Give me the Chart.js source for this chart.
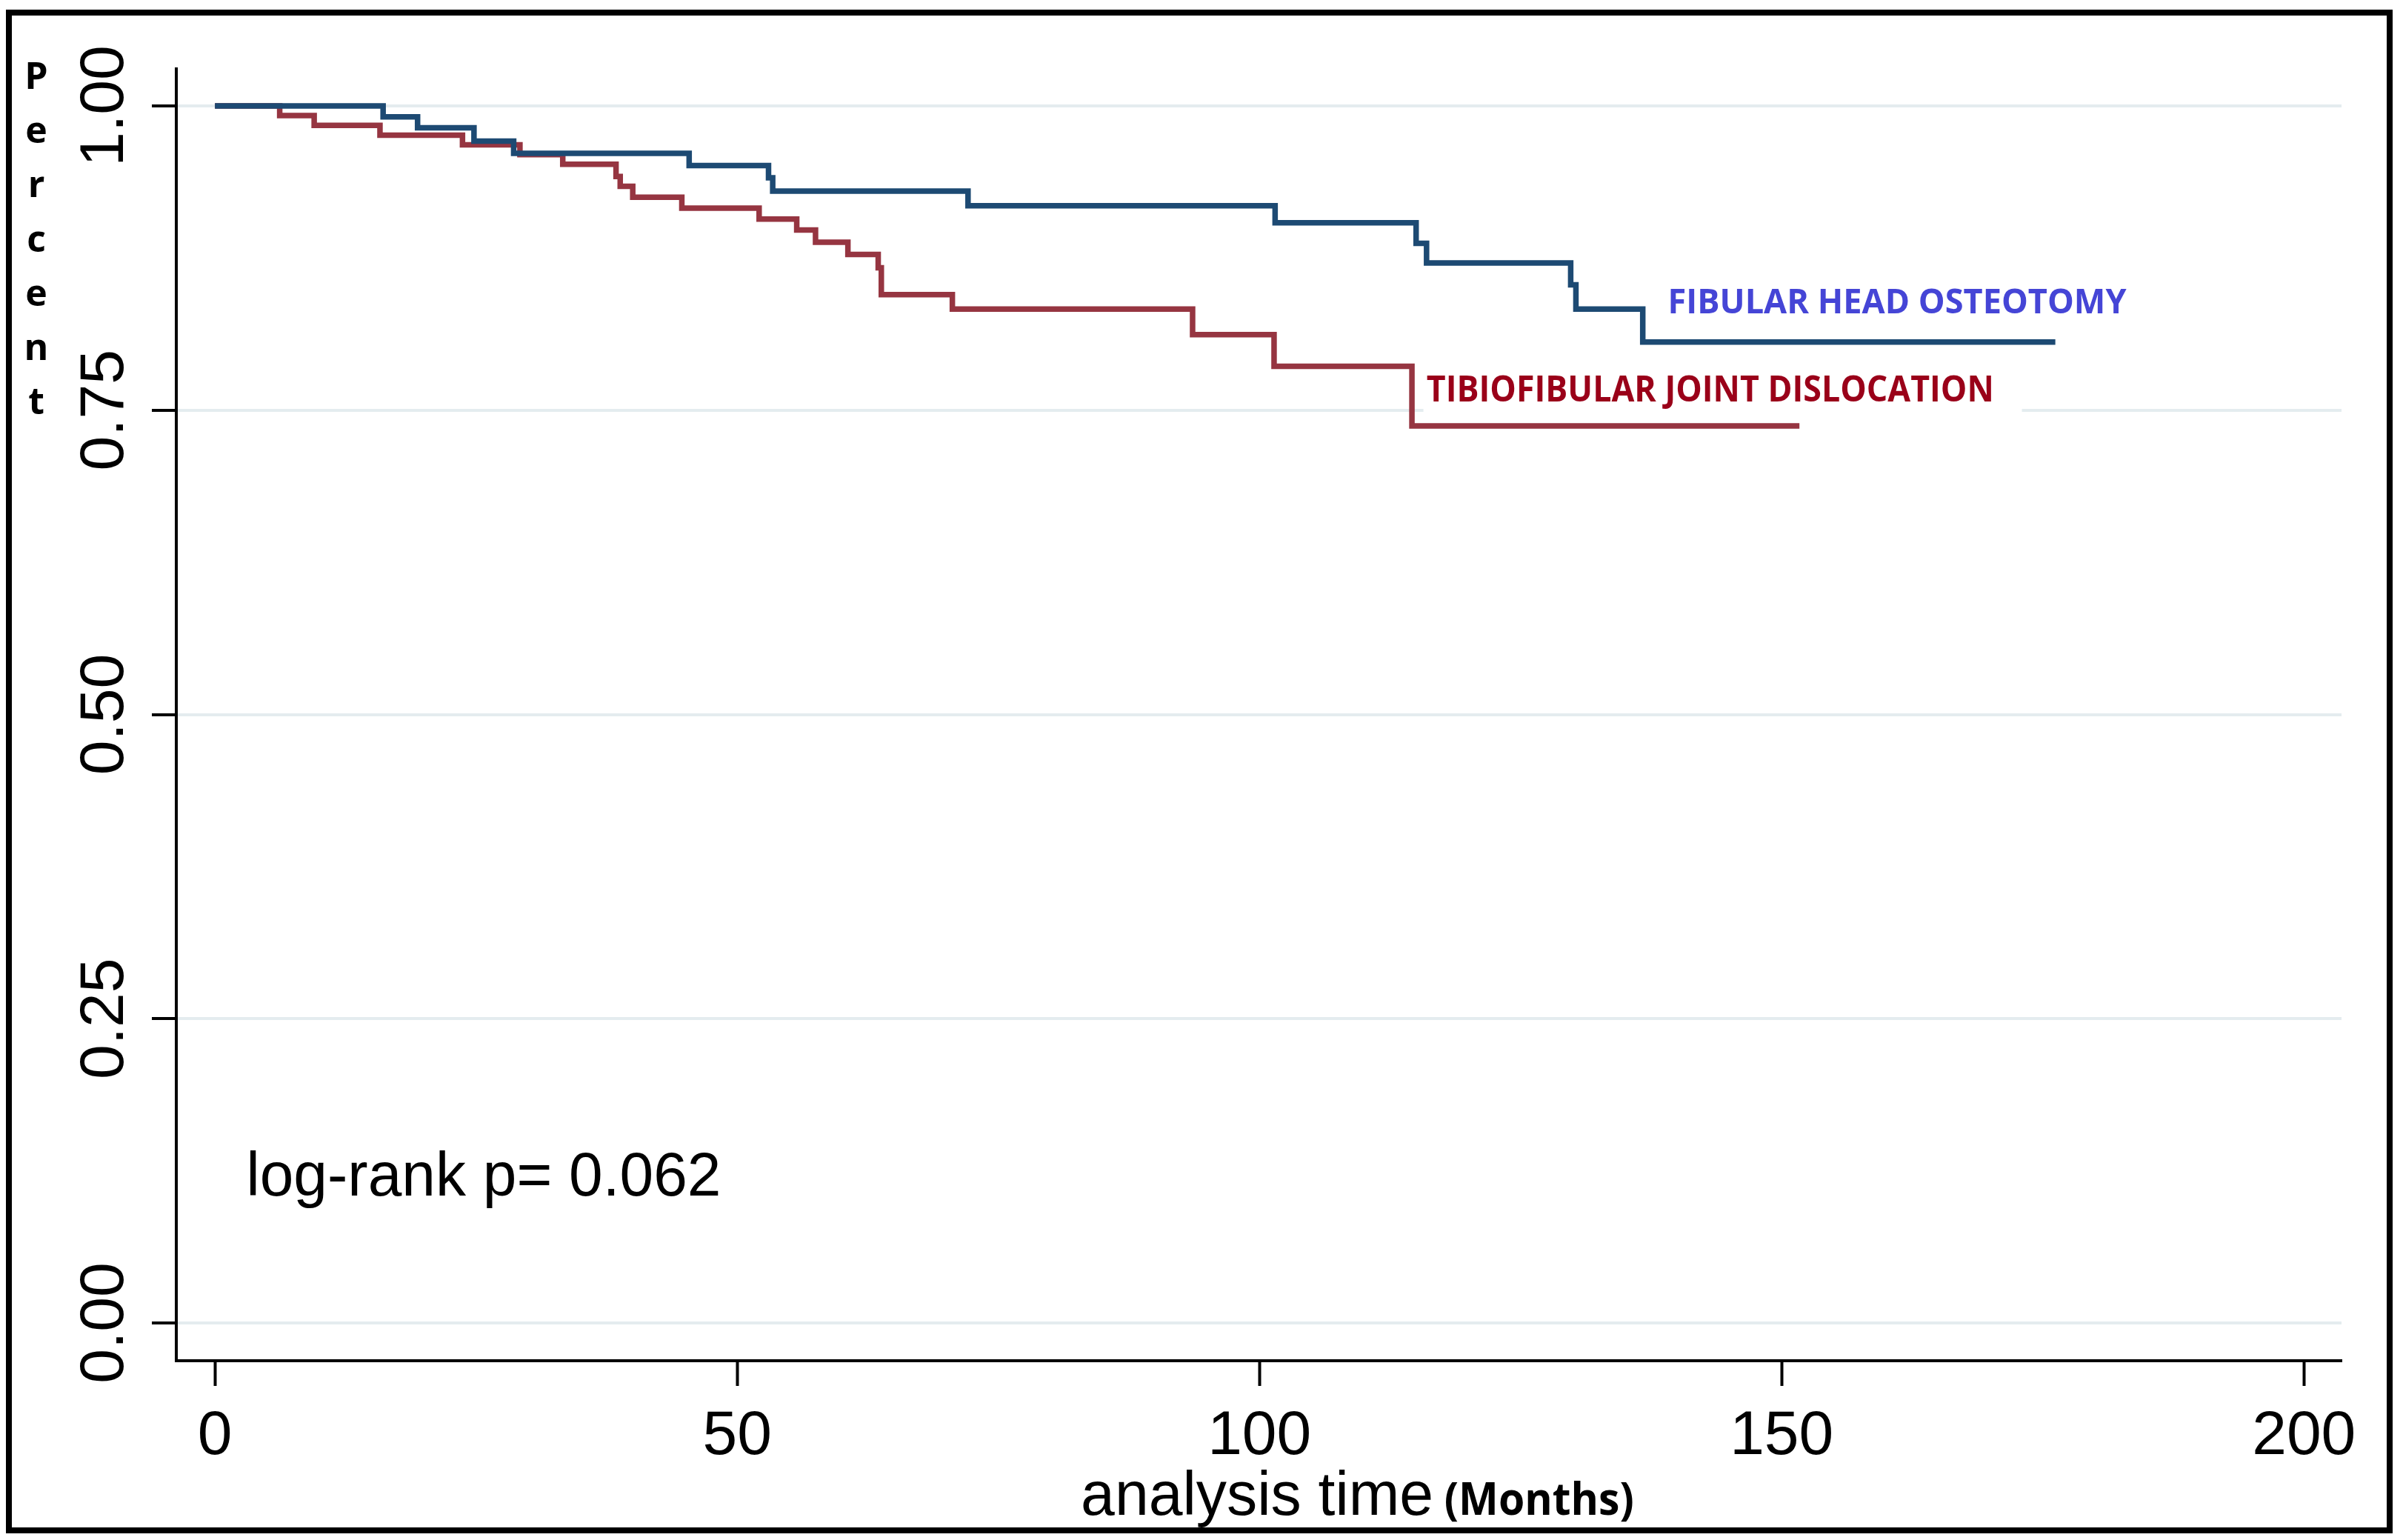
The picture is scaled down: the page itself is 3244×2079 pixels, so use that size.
<!DOCTYPE html>
<html>
<head>
<meta charset="utf-8">
<script src="https://cdn.jsdelivr.net/npm/chart.js@4/dist/chart.umd.min.js"></script>
<style>
  html, body { margin: 0; padding: 0; background: #fff; overflow: hidden; }
  #c { display: block; }
</style>
</head>
<body>
<canvas id="c" width="3244" height="2079" style="width:3244px;height:2079px"></canvas>
<script>
// ---- Data ----
const fhoTimes = [0, 16.1, 19.4, 24.8, 28.6, 45.4, 53.0, 53.4, 72.1, 101.5, 115.0, 116.0, 129.8, 130.3, 136.7, 176.2];
const fhoSurv  = [1.000, 0.991, 0.982, 0.971, 0.961, 0.951, 0.941, 0.930, 0.918, 0.904, 0.887, 0.871, 0.853, 0.833, 0.806, 0.806];

const tfjTimes = [0, 6.2, 9.5, 15.8, 23.7, 29.2, 33.3, 38.4, 38.8, 40.0, 44.7, 52.1, 55.7, 57.5, 60.6, 63.5, 63.8, 70.6, 93.6, 101.4, 114.6, 151.7];
const tfjSurv  = [1.000, 0.992, 0.984, 0.976, 0.968, 0.960, 0.952, 0.942, 0.934, 0.925, 0.916, 0.907, 0.898, 0.888, 0.878, 0.867, 0.845, 0.833, 0.812, 0.786, 0.737, 0.737];

const seriesNames = ['FIBULAR HEAD OSTEOTOMY', 'TIBIOFIBULAR JOINT DISLOCATION'];
const xTickValues = [0, 50, 100, 150, 200];
const yTickValues = [0, 0.25, 0.5, 0.75, 1];
const yTitleLetters = ['P', 'e', 'r', 'c', 'e', 'n', 't'];
const xTitleMain = 'analysis time';
const xTitleUnit = '(Months)';
const noteText = 'log-rank p= 0.062';

// annotation anchors in data units [time, survival]
const noteAnchor = [3.0, 0.105];
const fhoLabelAnchor = [139.1, 0.8296];
const tfjLabelAnchor = [116.0, 0.757];
const tfjBoxT = [115.7, 173.0];
const tfjBoxS = [0.786, 0.748];
const xTitleAnchor = [82.9, -0.1576];
const xUnitAnchor = [117.7, -0.1576];

const BLUE = '#1d4a73';
const RED = '#963541';

function drawScaledText(ctx, text, x, y, font, color, targetW) {
  ctx.save();
  ctx.font = font;
  ctx.fillStyle = color;
  ctx.textAlign = 'left';
  ctx.textBaseline = 'alphabetic';
  const w = ctx.measureText(text).width;
  const sx = targetW ? targetW / w : 1;
  ctx.translate(x, y);
  ctx.scale(sx, 1);
  ctx.fillText(text, 0, 0);
  ctx.restore();
}

const annotPlugin = {
  id: 'annot',
  beforeDatasetsDraw(chart) {
    const { ctx, scales: { x, y } } = chart;
    const x0 = x.getPixelForValue(tfjBoxT[0]), x1 = x.getPixelForValue(tfjBoxT[1]);
    const y0 = y.getPixelForValue(tfjBoxS[0]), y1 = y.getPixelForValue(tfjBoxS[1]);
    ctx.save();
    ctx.fillStyle = '#ffffff';
    ctx.fillRect(x0, y0, x1 - x0, y1 - y0);
    ctx.restore();
  },
  afterDraw(chart) {
    const { ctx, scales: { x, y } } = chart;
    // series labels
    drawScaledText(ctx, seriesNames[0], x.getPixelForValue(fhoLabelAnchor[0]), y.getPixelForValue(fhoLabelAnchor[1]),
      'bold 46px "Open Sans"', '#4545d6', 619);
    drawScaledText(ctx, seriesNames[1], x.getPixelForValue(tfjLabelAnchor[0]), y.getPixelForValue(tfjLabelAnchor[1]),
      'bold 48px "Open Sans"', '#9a0019', 766);
    // log-rank note
    drawScaledText(ctx, noteText, x.getPixelForValue(noteAnchor[0]), y.getPixelForValue(noteAnchor[1]),
      '84px "Liberation Sans"', '#000', 641);
    // x axis title
    drawScaledText(ctx, xTitleMain, x.getPixelForValue(xTitleAnchor[0]), y.getPixelForValue(xTitleAnchor[1]),
      '84px "Liberation Sans"', '#000', 476);
    drawScaledText(ctx, xTitleUnit, x.getPixelForValue(xUnitAnchor[0]), y.getPixelForValue(xUnitAnchor[1]),
      'bold 60px "Open Sans"', '#000', 256);
    // y axis title (stacked letters)
    ctx.save();
    ctx.font = 'bold 50px "Open Sans"';
    ctx.fillStyle = '#000';
    ctx.textAlign = 'center';
    ctx.textBaseline = 'alphabetic';
    yTitleLetters.forEach((ch, i) => {
      ctx.fillText(ch, 49, 120 + i * 73.2);
    });
    ctx.restore();
    // outer frame
    ctx.save();
    ctx.strokeStyle = '#000';
    ctx.lineWidth = 8;
    ctx.strokeRect(12, 17, 3214, 2049);
    ctx.restore();
  }
};

const tickFont = { family: 'Liberation Sans', size: 84 };

new Chart(document.getElementById('c'), {
  type: 'line',
  data: {
    datasets: [
      {
        label: seriesNames[0],
        data: fhoTimes.map((t, i) => ({ x: t, y: fhoSurv[i] })),
        borderColor: BLUE,
        borderWidth: 7.5,
        stepped: 'before',
        pointRadius: 0,
        fill: false
      },
      {
        label: seriesNames[1],
        data: tfjTimes.map((t, i) => ({ x: t, y: tfjSurv[i] })),
        borderColor: RED,
        borderWidth: 7.5,
        stepped: 'before',
        pointRadius: 0,
        fill: false
      }
    ]
  },
  options: {
    responsive: false,
    animation: false,
    devicePixelRatio: 1,
    layout: { padding: { top: 93, right: 83, left: 0, bottom: 0 } },
    plugins: { legend: { display: false }, tooltip: { enabled: false } },
    scales: {
      x: {
        type: 'linear',
        min: -3.7,
        max: 203.6,
        afterBuildTicks: s => { s.ticks = xTickValues.map(v => ({ value: v })); },
        afterFit: s => { s.height = 242; },
        grid: { drawOnChartArea: false, tickLength: 34, tickColor: '#000', tickWidth: 4 },
        border: { color: '#000', width: 4 },
        ticks: { font: tickFont, color: '#000', padding: 18, maxRotation: 0, minRotation: 0 }
      },
      y: {
        type: 'linear',
        min: -0.031,
        max: 1.0304,
        afterBuildTicks: s => { s.ticks = yTickValues.map(v => ({ value: v })); },
        afterFit: s => { s.width = 238; },
        grid: { color: '#e4ecef', lineWidth: 4, tickLength: 33, tickColor: '#000', tickWidth: 4 },
        border: { color: '#000', width: 4 },
        ticks: {
          font: tickFont, color: '#000', minRotation: 90, maxRotation: 90,
          crossAlign: 'center', padding: -20,
          callback: v => Number(v).toFixed(2)
        }
      }
    }
  },
  plugins: [annotPlugin]
});
</script>
</body>
</html>
